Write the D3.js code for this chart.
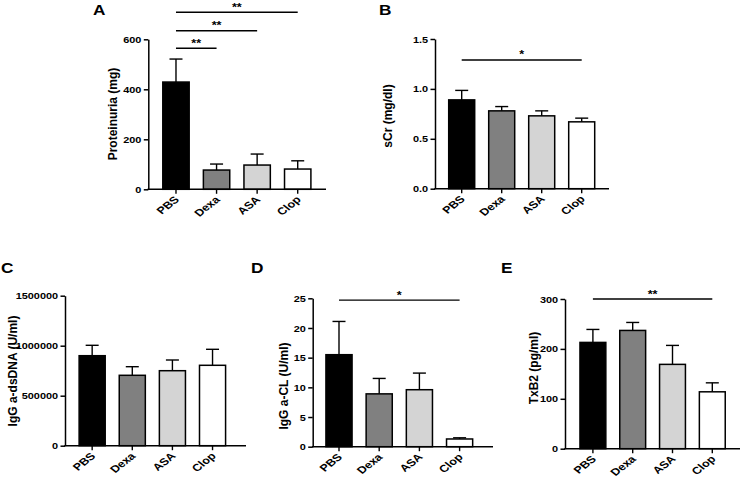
<!DOCTYPE html>
<html>
<head>
<meta charset="utf-8">
<script src="https://cdn.jsdelivr.net/npm/d3@7"></script>
<style>
  body { margin: 0; background: #fff; }
  svg { display: block; font-family: "Liberation Sans", Arial, sans-serif; font-weight: bold; }
</style>
</head>
<body>
<svg id="fig" width="740" height="483"></svg>
<script>
// groups shared by every panel
const groups = ["PBS", "Dexa", "ASA", "Clop"];

// A - proteinuria
const proteinuria = [429, 77, 97, 81];
const proteinuriaSem = [92, 24, 44, 33];
const proteinuriaTicks = [0, 200, 400, 600];
const proteinuriaSig = [[0, 1, "**", 564], [0, 2, "**", 634], [0, 3, "**", 708]];

// B - serum creatinine
const sCr = [0.89, 0.78, 0.73, 0.67];
const sCrSem = [0.095, 0.043, 0.05, 0.037];
const sCrTicks = [0, 0.5, 1.0, 1.5];
const sCrSig = [[0, 3, "*", 1.29]];

// C - anti dsDNA
const dsDNA = [900000, 704000, 750000, 804000];
const dsDNASem = [104000, 86000, 107000, 160000];
const dsDNATicks = [0, 500000, 1000000, 1500000];
const dsDNASig = [];

// D - anti cardiolipin
const aCL = [15.5, 8.9, 9.6, 1.3];
const aCLSem = [5.6, 2.6, 2.8, 0.2];
const aCLTicks = [0, 5, 10, 15, 20, 25];
const aCLSig = [[0, 3, "*", 24.7]];

// E - thromboxane B2
const txb2 = [213, 237, 169, 114];
const txb2Sem = [26, 16, 38, 18];
const txb2Ticks = [0, 100, 200, 300];
const txb2Sig = [[0, 3, "**", 300]];

// stile
const fills = ["#000000", "#808080", "#d4d4d4", "#ffffff"];
const stretch = 1.15;   // the figure is slightly wider than tall

const svg = d3.select('#fig');

const panels = [
  {letter: "A", lx: 93, ly: 15, title: "Proteinuria (mg)", tx: 113, ty: 114,
   ax: 148.3, y0: 189.3, yTop: 39.3, xEnd: 326, band: [155.7, 318],
   values: proteinuria, sem: proteinuriaSem, ticks: proteinuriaTicks, sig: proteinuriaSig, fmt: d3.format("")},
  {letter: "B", lx: 379, ly: 15, title: "sCr (mg/dl)", tx: 388, ty: 116,
   ax: 435, y0: 188.7, yTop: 39, xEnd: 609, band: [441.7, 601.7],
   values: sCr, sem: sCrSem, ticks: sCrTicks, sig: sCrSig, fmt: d3.format(".1f")},
  {letter: "C", lx: 1, ly: 273, title: "IgG a-dsDNA (U/ml)", tx: 13, ty: 371,
   ax: 65, y0: 445.7, yTop: 295.7, xEnd: 246, band: [72.1, 232.6],
   values: dsDNA, sem: dsDNASem, ticks: dsDNATicks, sig: dsDNASig, fmt: d3.format("")},
  {letter: "D", lx: 251, ly: 273, title: "IgG a-CL (U/ml)", tx: 284, ty: 386,
   ax: 312.7, y0: 446.7, yTop: 298.3, xEnd: 493, band: [318.9, 479.7],
   values: aCL, sem: aCLSem, ticks: aCLTicks, sig: aCLSig, fmt: d3.format("")},
  {letter: "E", lx: 501, ly: 273, title: "TxB2 (pg/ml)", tx: 534, ty: 368,
   ax: 565, y0: 448.7, yTop: 299, xEnd: 740, band: [573, 732.2],
   values: txb2, sem: txb2Sem, ticks: txb2Ticks, sig: txb2Sig, fmt: d3.format("")}
];

const render = p => {
  const g = svg.append('g');
  const data = groups.map((name, i) => ({name, value: p.values[i], sem: p.sem[i], fill: fills[i]}));

  const xScale = d3.scaleBand()
    .domain(groups)
    .range(p.band)
    .paddingInner(0.35)
    .paddingOuter(0.175);

  const yScale = d3.scaleLinear()
    .domain([0, d3.max(p.ticks)])
    .range([p.y0, p.yTop]);

  // lettera del pannello
  g.append('text')
    .attr('transform', `translate(${p.lx},${p.ly}) scale(${stretch},1)`)
    .attr('font-size', 15)
    .text(p.letter);

  // asse y
  const yAxisG = g.append('g')
    .attr('transform', `translate(${p.ax},0)`)
    .call(d3.axisLeft(yScale)
      .tickValues(p.ticks)
      .tickFormat(p.fmt)
      .tickSize(4.5)
      .tickSizeOuter(0)
      .tickPadding(1.5));
  yAxisG.attr('font-family', null).attr('font-size', null);
  yAxisG.selectAll('line, path').attr('stroke', '#000').attr('stroke-width', 1.5);
  yAxisG.selectAll('text')
    .attr('font-size', 9.5)
    .attr('fill', '#000')
    .attr('transform', `scale(${stretch},1)`);

  g.append('text')
    .attr('transform', `translate(${p.tx},${p.ty}) rotate(-90)`)
    .attr('text-anchor', 'middle')
    .attr('dominant-baseline', 'central')
    .attr('font-size', 12)
    .text(p.title);

  // barre
  g.selectAll('rect.bar')
    .data(data)
    .enter()
    .append('rect')
      .attr('class', 'bar')
      .attr('x', d => xScale(d.name))
      .attr('y', d => yScale(d.value))
      .attr('width', xScale.bandwidth())
      .attr('height', d => p.y0 - yScale(d.value))
      .attr('fill', d => d.fill)
      .attr('stroke', '#000')
      .attr('stroke-width', 1.5);

  // barre di errore (solo verso l'alto)
  const cx = d => xScale(d.name) + xScale.bandwidth() / 2;
  const err = g.selectAll('g.err')
    .data(data)
    .enter()
    .append('g')
      .attr('class', 'err')
      .attr('stroke', '#000')
      .attr('stroke-width', 1.4);
  err.append('line')
    .attr('x1', cx).attr('x2', cx)
    .attr('y1', d => yScale(d.value))
    .attr('y2', d => yScale(d.value + d.sem));
  err.append('line')
    .attr('x1', d => cx(d) - 6.5).attr('x2', d => cx(d) + 6.5)
    .attr('y1', d => yScale(d.value + d.sem))
    .attr('y2', d => yScale(d.value + d.sem));

  // asse x
  const xAxisG = g.append('g')
    .attr('transform', `translate(0,${p.y0})`)
    .call(d3.axisBottom(xScale).tickSize(4.5).tickSizeOuter(0));
  xAxisG.attr('font-family', null).attr('font-size', null);
  xAxisG.select('.domain').remove();
  xAxisG.selectAll('line').attr('stroke', '#000').attr('stroke-width', 1.4);
  xAxisG.selectAll('text')
    .attr('x', null).attr('y', null).attr('dy', null)
    .attr('font-size', 10)
    .attr('fill', '#000')
    .attr('text-anchor', 'end')
    .attr('transform', `translate(4,11) scale(1.25,1) rotate(-45)`);
  g.append('line')
    .attr('x1', p.ax - 0.75).attr('x2', p.xEnd)
    .attr('y1', p.y0).attr('y2', p.y0)
    .attr('stroke', '#000')
    .attr('stroke-width', 1.5);

  // significativita
  p.sig.forEach(([a, b, label, level]) => {
    const x1 = cx(data[a]);
    const x2 = cx(data[b]);
    const y = yScale(level);
    g.append('line')
      .attr('x1', x1).attr('x2', x2)
      .attr('y1', y).attr('y2', y)
      .attr('stroke', '#000')
      .attr('stroke-width', 1.4);
    g.append('text')
      .attr('transform', `translate(${(x1 + x2) / 2},${y - 1.5}) scale(${stretch},1)`)
      .attr('text-anchor', 'middle')
      .attr('font-size', 11)
      .text(label);
  });
};

panels.forEach(render);
</script>
</body>
</html>
